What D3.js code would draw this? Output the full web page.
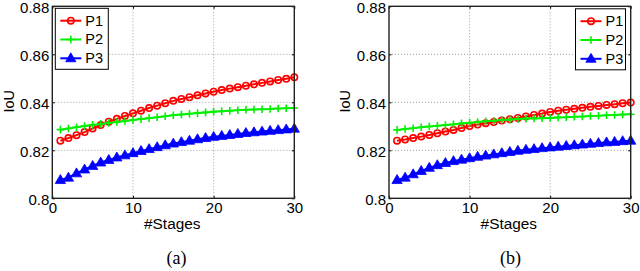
<!DOCTYPE html>
<html>
<head>
<meta charset="utf-8">
<script src="https://cdn.jsdelivr.net/npm/d3@7"></script>
<style>
  body { margin: 0; background: #fff; }
  svg { display: block; }
  .tick text { font-family: "Liberation Sans", Arial, sans-serif; font-size: 15px; fill: #000; }
</style>
</head>
<body>
<div id="chart"></div>
<script>
// data
const stages = d3.range(1, 31);
const xTicks = [0, 10, 20, 30];
const yTicks = [0.8, 0.82, 0.84, 0.86, 0.88];
const seriesNames = ["P1", "P2", "P3"];

const p1a = [0.8240, 0.8251, 0.8263, 0.8276, 0.8291, 0.8305, 0.8319, 0.8331, 0.8343, 0.8354,
  0.8365, 0.8376, 0.8386, 0.8396, 0.8406, 0.8414, 0.8421, 0.8429, 0.8437, 0.8444,
  0.8451, 0.8457, 0.8463, 0.8469, 0.8475, 0.8481, 0.8487, 0.8493, 0.8498, 0.8504];
const p2a = [0.8286, 0.8291, 0.8296, 0.8301, 0.8306, 0.8310, 0.8314, 0.8318, 0.8322, 0.8326,
  0.8330, 0.8334, 0.8338, 0.8342, 0.8346, 0.8349, 0.8352, 0.8355, 0.8358, 0.8361,
  0.8363, 0.8365, 0.8367, 0.8369, 0.8370, 0.8371, 0.8372, 0.8374, 0.8375, 0.8376];
const p3a = [0.8076, 0.8086, 0.8104, 0.8120, 0.8135, 0.8149, 0.8160, 0.8170, 0.8179, 0.8188,
  0.8197, 0.8205, 0.8213, 0.8221, 0.8228, 0.8234, 0.8240, 0.8246, 0.8251, 0.8256,
  0.8260, 0.8264, 0.8268, 0.8272, 0.8275, 0.8278, 0.8281, 0.8284, 0.8287, 0.8290];

const p1b = [0.8240, 0.8245, 0.8251, 0.8257, 0.8264, 0.8271, 0.8278, 0.8285, 0.8293, 0.8301,
  0.8307, 0.8313, 0.8318, 0.8324, 0.8329, 0.8335, 0.8341, 0.8347, 0.8353, 0.8360,
  0.8365, 0.8369, 0.8373, 0.8377, 0.8381, 0.8385, 0.8389, 0.8392, 0.8396, 0.8399];
const p2b = [0.8285, 0.8289, 0.8292, 0.8296, 0.8299, 0.8302, 0.8305, 0.8308, 0.8312, 0.8315,
  0.8318, 0.8321, 0.8323, 0.8326, 0.8328, 0.8330, 0.8332, 0.8333, 0.8334, 0.8335,
  0.8337, 0.8338, 0.8340, 0.8341, 0.8343, 0.8344, 0.8346, 0.8347, 0.8349, 0.8350];
const p3b = [0.8076, 0.8086, 0.8100, 0.8114, 0.8127, 0.8138, 0.8147, 0.8155, 0.8161, 0.8167,
  0.8173, 0.8178, 0.8183, 0.8188, 0.8193, 0.8198, 0.8202, 0.8205, 0.8209, 0.8212,
  0.8215, 0.8218, 0.8221, 0.8224, 0.8227, 0.8230, 0.8233, 0.8235, 0.8238, 0.8240];

const colors = ["#ff0000", "#00f000", "#0000ff"];

//////////////  Init  //////////////
const width = 640;
const height = 271;
const svg = d3.select("#chart").append("svg")
  .attr("width", width)
  .attr("height", height);

const sans = "'Liberation Sans', Arial, sans-serif";

// markers: 0 = open circle, 1 = plus, 2 = filled triangle
function drawMarker(g, kind, x, y, color) {
  if (kind === 0) {
    g.append("circle").attr("cx", x).attr("cy", y).attr("r", 3.2)
      .attr("fill", "none").attr("stroke", color).attr("stroke-width", 1.6);
  } else if (kind === 1) {
    g.append("path").attr("d", `M${x - 3.8},${y}H${x + 3.8}M${x},${y - 3.8}V${y + 3.8}`)
      .attr("stroke", color).attr("stroke-width", 1.6);
  } else {
    g.append("path").attr("d", d3.symbol().type(d3.symbolTriangle).size(46)())
      .attr("transform", `translate(${x},${y + 0.5})`)
      .attr("fill", color).attr("stroke", color).attr("stroke-width", 0.8);
  }
}

function panel(opt) {
  const { left, right, top, bottom, series, legend, label, labelX } = opt;

  const xScale = d3.scaleLinear().domain([0, 30]).range([left, right]);
  const yScale = d3.scaleLinear().domain([0.8, 0.88]).range([bottom, top]);

  const g = svg.append("g");

  // grid
  g.append("g")
    .selectAll("line")
    .data(xTicks.slice(1, -1))
    .join("line")
    .attr("x1", (d) => xScale(d)).attr("x2", (d) => xScale(d))
    .attr("y1", top).attr("y2", bottom)
    .attr("stroke", "#888").attr("stroke-width", 0.8).attr("stroke-dasharray", "1,2");
  g.append("g")
    .selectAll("line")
    .data(yTicks.slice(1, -1))
    .join("line")
    .attr("y1", (d) => yScale(d)).attr("y2", (d) => yScale(d))
    .attr("x1", left).attr("x2", right)
    .attr("stroke", "#888").attr("stroke-width", 0.8).attr("stroke-dasharray", "1,2");

  // axes (ticks inward, like matlab)
  const xAxis = d3.axisBottom(xScale).tickValues(xTicks).tickSize(-2.5).tickPadding(4.5).tickFormat(d3.format("d"));
  const yAxis = d3.axisLeft(yScale).tickValues(yTicks).tickSize(-2.5).tickPadding(3).tickFormat((d) => String(+d.toFixed(2)));

  g.append("g").attr("transform", `translate(0,${bottom})`).call(xAxis)
    .call((s) => s.select(".domain").remove())
    .call((s) => s.selectAll(".tick line").attr("stroke", "#000"));
  g.append("g").attr("transform", `translate(${left},0)`).call(yAxis)
    .call((s) => s.select(".domain").remove())
    .call((s) => s.selectAll(".tick line").attr("stroke", "#000"))
    .call((s) => s.selectAll(".tick text").attr("dy", "0.42em"));
  g.append("g").attr("transform", `translate(0,${top})`)
    .call(d3.axisTop(xScale).tickValues(xTicks).tickSize(-2.5).tickFormat(""))
    .call((s) => s.select(".domain").remove())
    .call((s) => s.selectAll(".tick line").attr("stroke", "#000"));
  g.append("g").attr("transform", `translate(${right},0)`)
    .call(d3.axisRight(yScale).tickValues(yTicks).tickSize(-2.5).tickFormat(""))
    .call((s) => s.select(".domain").remove())
    .call((s) => s.selectAll(".tick line").attr("stroke", "#000"));

  // lines
  const line = d3.line()
    .x((d, i) => xScale(stages[i]))
    .y((d) => yScale(d));

  series.forEach((vals, k) => {
    g.append("path").datum(vals)
      .attr("fill", "none").attr("stroke", colors[k]).attr("stroke-width", 2)
      .attr("d", line);
    const mg = g.append("g");
    vals.forEach((v, i) => drawMarker(mg, k, xScale(stages[i]), yScale(v), colors[k]));
  });

  // box
  g.append("rect")
    .attr("x", left).attr("y", top)
    .attr("width", right - left).attr("height", bottom - top)
    .attr("fill", "none").attr("stroke", "#222").attr("stroke-width", 1.4);

  // axis labels
  g.append("text")
    .attr("x", (left + right) / 2 - 1).attr("y", 229)
    .attr("text-anchor", "middle")
    .attr("font-family", sans).attr("font-size", 15.4)
    .text("#Stages");
  g.append("text")
    .attr("transform", `translate(${left - 38.8},${(top + bottom) / 2 - 1}) rotate(-90)`)
    .attr("text-anchor", "middle")
    .attr("font-family", sans).attr("font-size", 14.5)
    .text("IoU");

  g.append("text")
    .attr("x", labelX).attr("y", 264)
    .attr("text-anchor", "middle")
    .attr("font-family", "'Liberation Serif', 'Times New Roman', serif").attr("font-size", 18)
    .text(label);

  // legend
  const lg = g.append("g").attr("transform", `translate(${legend.x},${legend.y})`);
  lg.append("rect").attr("width", legend.w).attr("height", 61)
    .attr("fill", "#fff").attr("stroke", "#000").attr("stroke-width", 1);
  seriesNames.forEach((name, k) => {
    const yy = 12.4 + k * 18.8;
    lg.append("line").attr("x1", 5).attr("x2", 26).attr("y1", yy).attr("y2", yy)
      .attr("stroke", colors[k]).attr("stroke-width", 2);
    drawMarker(lg, k, 15.5, yy, colors[k]);
    lg.append("text").attr("x", 30).attr("y", yy + 5)
      .attr("font-family", sans).attr("font-size", 14.5)
      .text(name);
  });
}

panel({
  left: 52.3, right: 294.3, top: 6.3, bottom: 198.3,
  series: [p1a, p2a, p3a],
  legend: { x: 55.3, y: 8.3, w: 53 },
  label: "(a)", labelX: 176.5
});

panel({
  left: 389, right: 630.7, top: 6.3, bottom: 198.3,
  series: [p1b, p2b, p3b],
  legend: { x: 575.5, y: 8.8, w: 50 },
  label: "(b)", labelX: 510.5
});
</script>
</body>
</html>
